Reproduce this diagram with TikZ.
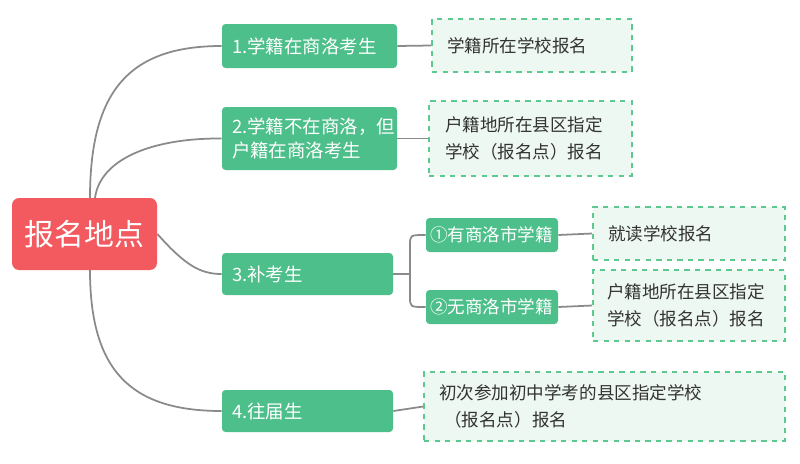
\documentclass[tikz,border=0pt]{standalone}
\usepackage{fontspec}
\setmainfont{Noto Sans CJK SC}
\usetikzlibrary{positioning}
\definecolor{rootred}{HTML}{F25A5F}
\definecolor{topicgreen}{HTML}{4DBF8A}
\definecolor{notegreen}{HTML}{EEF8F2}
\definecolor{noteline}{HTML}{5CC98F}
\definecolor{branchgray}{HTML}{8A8A8A}
\definecolor{notetext}{HTML}{333333}
\tikzset{
  topic/.style={fill=topicgreen, rounded corners=2pt, text=white, font=\fontsize{10.5}{14}\selectfont, align=left, inner sep=0pt},
  subtopic/.style={topic, font=\fontsize{10}{14}\selectfont},
  note/.style={fill=notegreen, draw=noteline, dashed, line width=0.9pt, text=notetext, font=\fontsize{10}{15}\selectfont, align=left, inner sep=0pt},
  branch/.style={draw=branchgray, line width=1pt}
}
\begin{document}
\begin{tikzpicture}[x=0.02cm, y=-0.02cm]
  \useasboundingbox (0,0) rectangle (800,463);
  % root
  \node[fill=rootred, rounded corners=4pt, text=white, font=\fontsize{17}{20}\selectfont,
        minimum width=145*0.02cm, minimum height=72*0.02cm] (root) at (84.5,234) {报名地点};
  % main topics
  \node[topic, minimum width=175*0.02cm, minimum height=44*0.02cm, text width=155*0.02cm] (t1) at (309.5,46) {1.学籍在商洛考生};
  \node[topic, minimum width=175*0.02cm, minimum height=63*0.02cm, text width=155*0.02cm] (t2) at (309.5,138.5) {2.学籍不在商洛，但\\户籍在商洛考生};
  \node[topic, minimum width=171*0.02cm, minimum height=42*0.02cm, text width=151*0.02cm] (t3) at (307.5,274) {3.补考生};
  \node[topic, minimum width=171*0.02cm, minimum height=42*0.02cm, text width=151*0.02cm] (t4) at (307.5,411) {4.往届生};
  % sub topics
  \node[subtopic, minimum width=132*0.02cm, minimum height=34*0.02cm, text width=124*0.02cm] (s1) at (492,235) {①有商洛市学籍};
  \node[subtopic, minimum width=132*0.02cm, minimum height=34*0.02cm, text width=124*0.02cm] (s2) at (492,307) {②无商洛市学籍};
  % notes
  \node[note, minimum width=200*0.02cm, minimum height=53*0.02cm, text width=170*0.02cm] (n1) at (532,45.5) {学籍所在学校报名};
  \node[note, minimum width=203*0.02cm, minimum height=75*0.02cm, text width=171*0.02cm] (n2) at (530.5,138.5) {户籍地所在县区指定\\学校（报名点）报名};
  \node[note, minimum width=192*0.02cm, minimum height=53*0.02cm, text width=162*0.02cm] (n3) at (689,233.5) {就读学校报名};
  \node[note, minimum width=192*0.02cm, minimum height=71*0.02cm, text width=164*0.02cm] (n4) at (689,305.5) {户籍地所在县区指定\\学校（报名点）报名};
  \node[note, minimum width=361*0.02cm, minimum height=69*0.02cm, text width=331*0.02cm] (n5) at (604.5,406.5) {初次参加初中学考的县区指定学校\\\hspace{0.3em}（报名点）报名};
  % branches from root
  \draw[branch] (90,198) .. controls (90,90) and (130,46) .. (t1.west);
  \draw[branch] (95,198) .. controls (100,160) and (150,138) .. (t2.west);
  \draw[branch] (root.east) .. controls (185,265) and (200,274) .. (t3.west);
  \draw[branch] (90,270) .. controls (90,370) and (130,411) .. (t4.west);
  % topic to note
  \draw[branch] (t1.east) -- (n1.west);
  \draw[branch] (t2.east) -- (n2.west);
  \draw[branch] (t4.east) -- (n5.west);
  \draw[branch] (s1.east) -- (n3.west);
  \draw[branch] (s2.east) -- (n4.west);
  % bracket to sub topics
  \coordinate (fork) at (410,274);
  \draw[branch] (t3.east) -- (fork);
  \draw[branch] (fork) -- (410,245) .. controls (410,235) .. (s1.west);
  \draw[branch] (fork) -- (410,297) .. controls (410,307) .. (s2.west);
\end{tikzpicture}
\end{document}
